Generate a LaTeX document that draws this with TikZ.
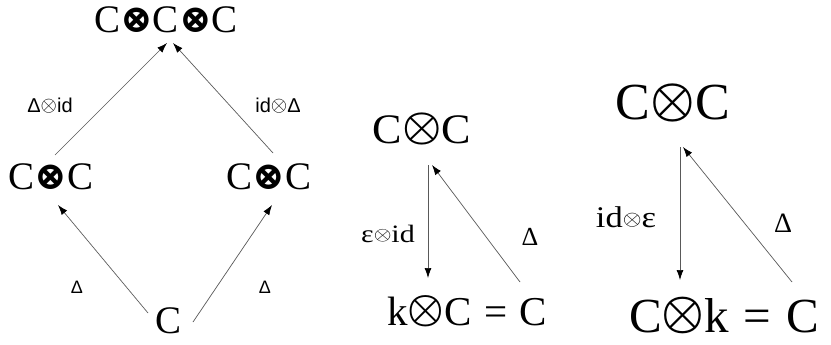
\documentclass[tikz,border=0pt]{standalone}
\usepackage{fontspec}
\usepackage{graphicx}
\setmainfont{Liberation Serif}
\newfontfamily\symfb{DejaVu Serif Bold}
\newfontfamily\sansf{Liberation Sans}
\usetikzlibrary{arrows.meta}
\newcommand{\ot}[1]{\raisebox{#1\dimexpr0.9pt\relax}{\scalebox{#1}{\fontsize{10}{12}\selectfont$\otimes$}}}
\newcommand{\otm}[1]{\raisebox{#1\dimexpr0.9pt\relax}{\scalebox{#1}{\fontsize{10}{12}\selectfont\boldmath$\otimes$}}}
\newcommand{\otb}{{\symfb ⊗}}
\newcommand{\eqsp}{\hspace{0.3em}=\hspace{0.3em}}
\begin{document}
\begin{tikzpicture}[x=1pt,y=-1pt,
  obj/.style={inner sep=0pt, anchor=base},
  arr/.style={draw=black!65, line width=0.7pt, -{Latex[length=10pt,width=7pt,color=black]}},
  lblsans/.style={inner sep=0pt, anchor=base, font=\sansf\fontsize{20}{22}\selectfont},
  lbl/.style={inner sep=0pt, anchor=base}]
\useasboundingbox[fill=white] (0,0) rectangle (831,345);
% left diagram
\node[obj, font=\fontsize{39}{41}\selectfont] (T) at (166,33) {C\otb C\otb C};
\node[obj, font=\fontsize{39}{41}\selectfont] (ML) at (51,189) {C\otb C};
\node[obj, font=\fontsize{39}{41}\selectfont] (MR) at (269,189) {C\otb C};
\node[obj, font=\fontsize{39}{41}\selectfont] (B) at (169,333) {C};
\draw[arr] ([shift={(-21,-20)}]B.base) -- ([shift={(7,16)}]ML.base);
\draw[arr] ([shift={(24,-11)}]B.base) -- ([shift={(3,16)}]MR.base);
\draw[arr] ([shift={(4,-34)}]ML.base) -- ([shift={(1,10)}]T.base);
\draw[arr] ([shift={(4,-36)}]MR.base) -- ([shift={(7,10)}]T.base);
\node[lblsans] (l1) at (50,113) {Δ\ot{2.1}id};
\node[lblsans] (l2) at (278,113) {id\ot{2.1}Δ};
\node[lblsans, font=\sansf\fontsize{18}{20}\selectfont] (l3) at (77,293) {Δ};
\node[lblsans, font=\sansf\fontsize{18}{20}\selectfont] (l4) at (265,293) {Δ};
% middle diagram
\node[obj, font=\fontsize{42}{44}\selectfont] (M1) at (422,143) {\scalebox{1.05}[1]{C\otm{4.2}C}};
\node[obj, font=\fontsize{41}{43}\selectfont] (M2) at (467,325) {k\otm{4.1}C\eqsp C};
\draw[arr] ([shift={(6,22)}]M1.base) -- ([shift={(-39,-47)}]M2.base);
\draw[arr] ([shift={(53,-43)}]M2.base) -- ([shift={(10,22)}]M1.base);
\node[lbl, font=\fontsize{25}{27}\selectfont] (m1) at (388,242) {\scalebox{1.2}[1]{ε\ot{1.9}id}};
\node[lbl, font=\fontsize{26}{28}\selectfont] (m2) at (530,245) {Δ};
% right diagram
\node[obj, font=\fontsize{52}{54}\selectfont] (R1) at (673,120) {C\otm{5.0}C};
\node[obj, font=\fontsize{49}{51}\selectfont] (R2) at (724,332) {C\otm{4.8}k\eqsp C};
\draw[arr] ([shift={(7,27)}]R1.base) -- ([shift={(-44,-52)}]R2.base);
\draw[arr] ([shift={(68,-50)}]R2.base) -- ([shift={(10,27)}]R1.base);
\node[lbl, font=\fontsize{30}{32}\selectfont] (r1) at (626,227) {\scalebox{1.15}[1]{id\ot{2.1}ε}};
\node[lbl, font=\fontsize{28}{30}\selectfont] (r2) at (783,232) {Δ};
\end{tikzpicture}
\end{document}
